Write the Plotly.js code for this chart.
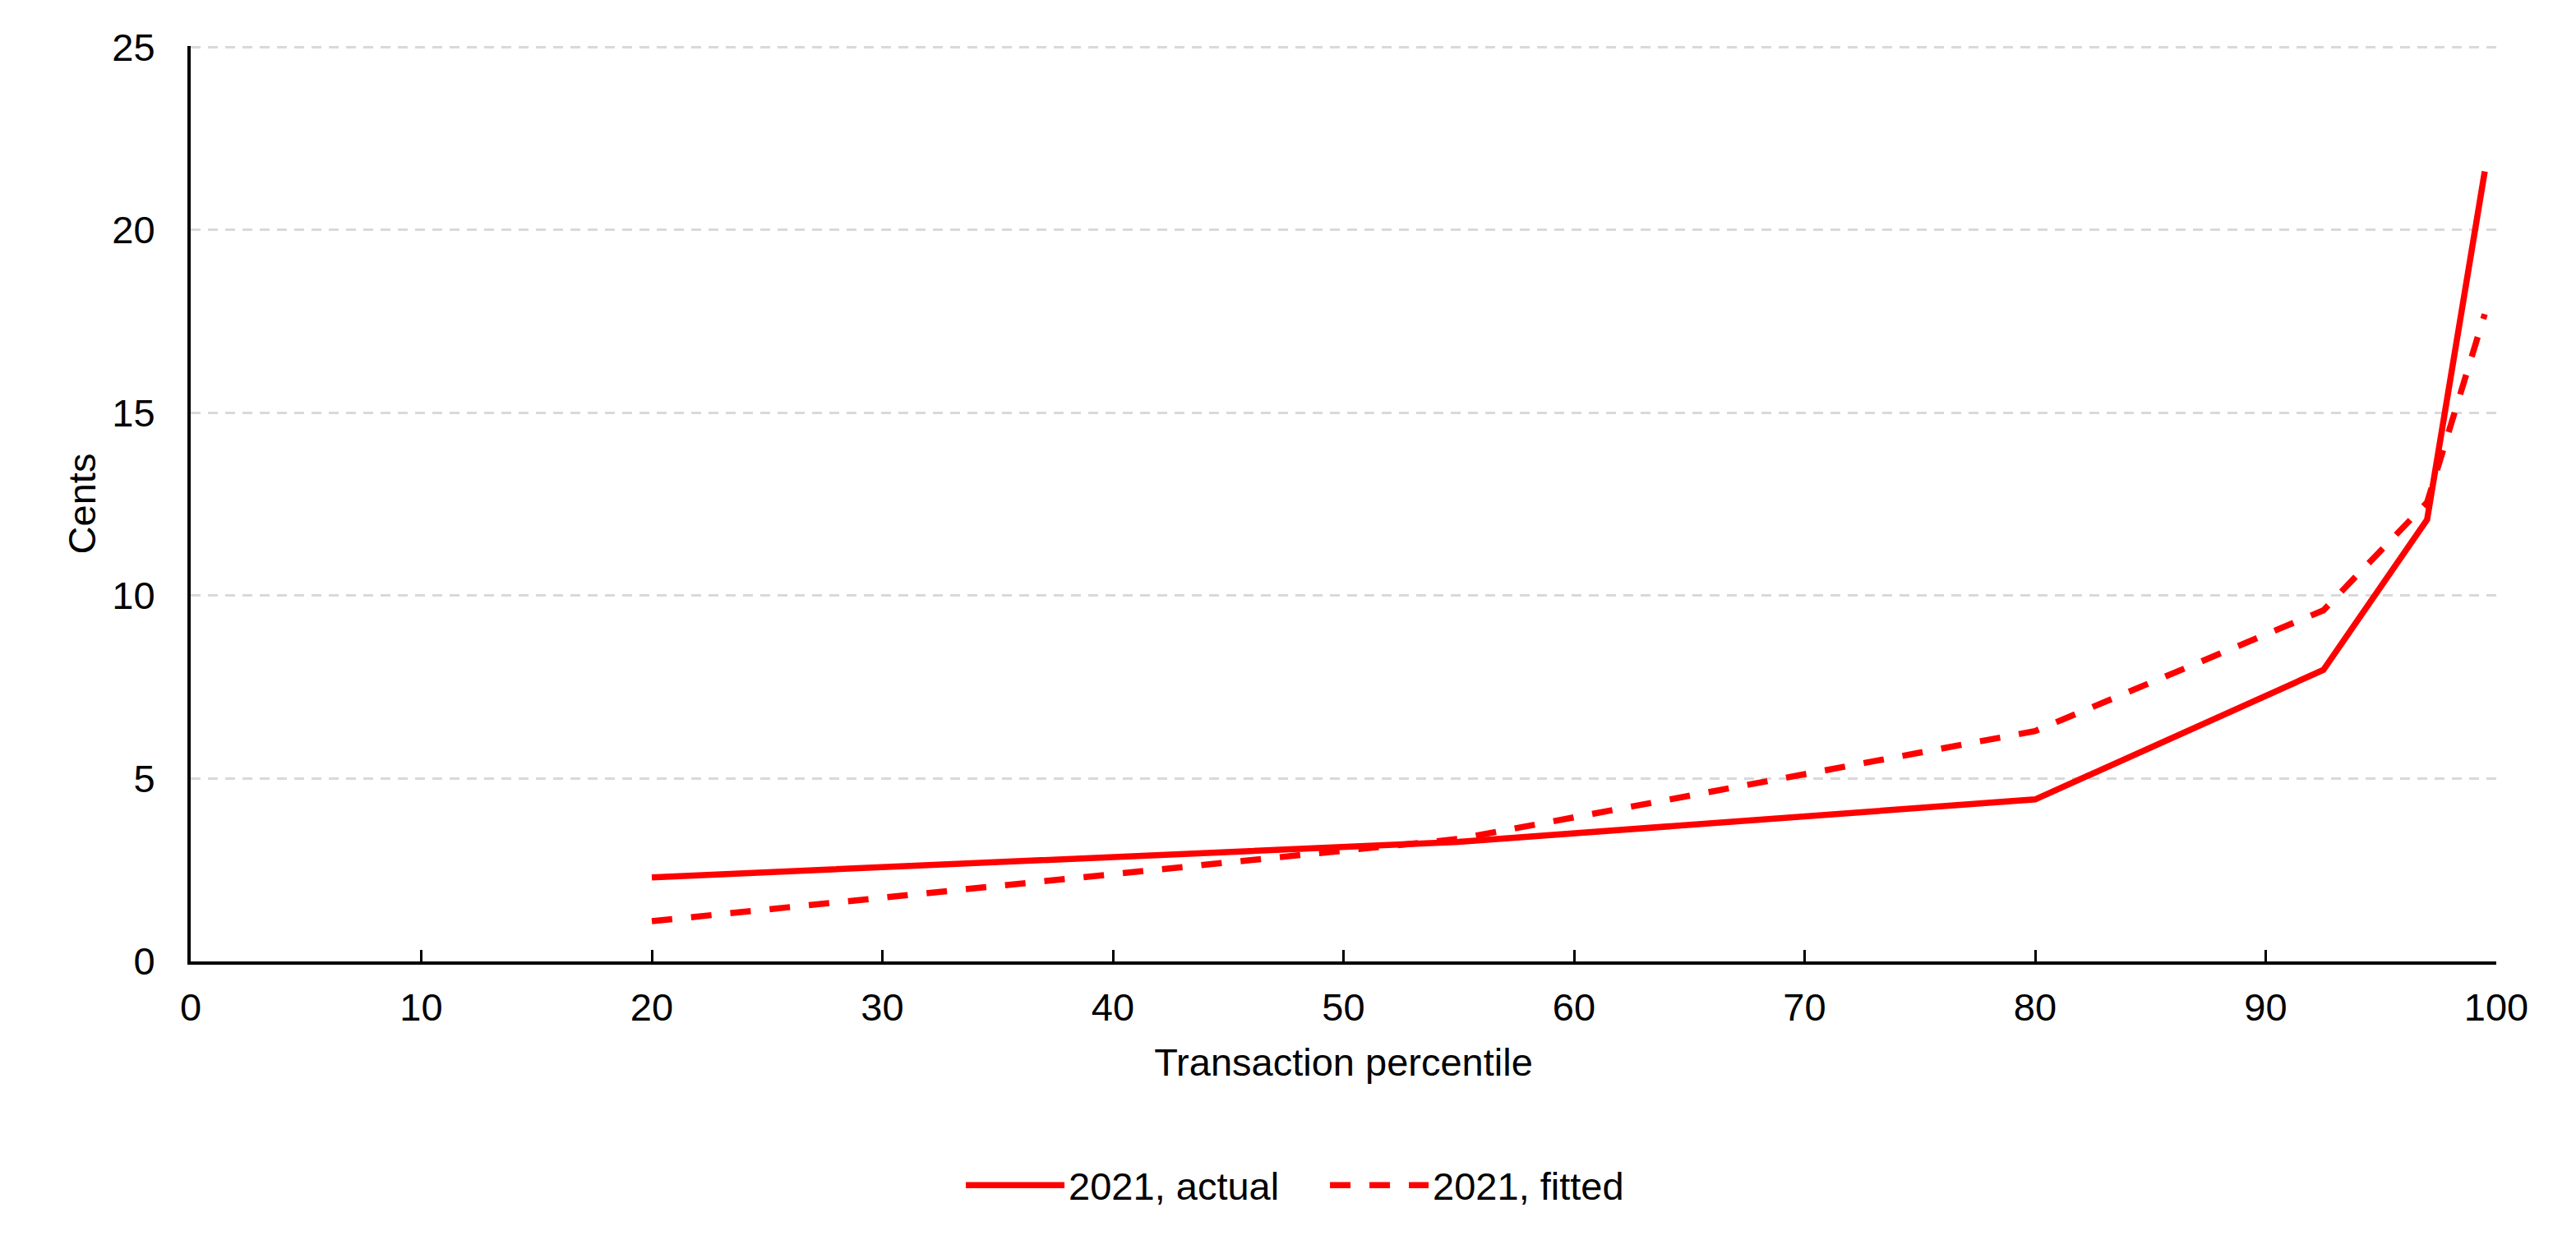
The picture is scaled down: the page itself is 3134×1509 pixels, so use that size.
<!DOCTYPE html>
<html>
<head>
<meta charset="utf-8">
<script src="https://cdn.plot.ly/plotly-3.0.1.min.js"></script>
<style>
  html, body { margin: 0; padding: 0; background: #ffffff; }
  #chart { width: 3134px; height: 1509px; }
</style>
</head>
<body>
<div id="chart"></div>
<script>
// Transaction percentiles (bin midpoints)
const percentiles = [20, 55, 80, 92.5, 97, 99.5];
// Cents, 2021 actual
const actual2021 = [2.30, 3.27, 4.43, 7.97, 12.08, 21.6];
// Cents, 2021 fitted
const fitted2021 = [1.10, 3.35, 6.30, 9.60, 12.55, 17.7];

const seriesNames = ['2021, actual', '2021, fitted'];
const xTicks = [0, 10, 20, 30, 40, 50, 60, 70, 80, 90, 100];
const yTicks = [0, 5, 10, 15, 20, 25];

const FONT = 'Liberation Sans, Arial, sans-serif';
const FS = 47;

const traces = [
  {
    x: percentiles, y: actual2021, name: seriesNames[0],
    type: 'scatter', mode: 'lines',
    line: { color: '#ff0000', width: 7.5 }
  },
  {
    x: percentiles, y: fitted2021, name: seriesNames[1],
    type: 'scatter', mode: 'lines',
    line: { color: '#ff0000', width: 7.5, dash: '25px,23px' }
  }
];

const layout = {
  width: 3134, height: 1509,
  paper_bgcolor: '#ffffff', plot_bgcolor: '#ffffff',
  margin: { l: 232, r: 97, t: 56, b: 339 },
  font: { family: FONT, size: FS, color: '#000000' },
  showlegend: true,
  legend: {
    orientation: 'h',
    xref: 'container', yref: 'container',
    x: 0.5147, xanchor: 'center',
    y: 0.044, yanchor: 'middle',
    font: { family: FONT, size: FS, color: '#000000' },
    itemwidth: 120,
    entrywidth: 308, entrywidthmode: 'pixels',
    bgcolor: 'rgba(0,0,0,0)'
  },
  xaxis: {
    range: [0, 100],
    tickmode: 'array', tickvals: xTicks, ticktext: xTicks.map(String),
    ticks: 'inside', ticklen: 14, tickwidth: 3, tickcolor: '#000000',
    showline: true, linecolor: '#000000', linewidth: 4,
    showgrid: false, zeroline: false,
    ticklabelstandoff: 12,
    tickfont: { family: FONT, size: FS, color: '#000000' },
    title: { text: 'Transaction percentile', font: { family: FONT, size: FS, color: '#000000' }, standoff: 26 },
    automargin: false
  },
  yaxis: {
    range: [0, 25.03],
    tickmode: 'array', tickvals: yTicks, ticktext: yTicks.map(String),
    ticks: '',
    showline: true, linecolor: '#000000', linewidth: 4,
    showgrid: true, gridcolor: '#d9d9d9', gridwidth: 3, griddash: '12px,9px',
    zeroline: false,
    ticklabelstandoff: 30,
    tickfont: { family: FONT, size: FS, color: '#000000' },
    title: { text: 'Cents', font: { family: FONT, size: FS, color: '#000000' }, standoff: 6 },
    automargin: false
  }
};

Plotly.newPlot('chart', traces, layout, { displayModeBar: false, staticPlot: true });
</script>
</body>
</html>
